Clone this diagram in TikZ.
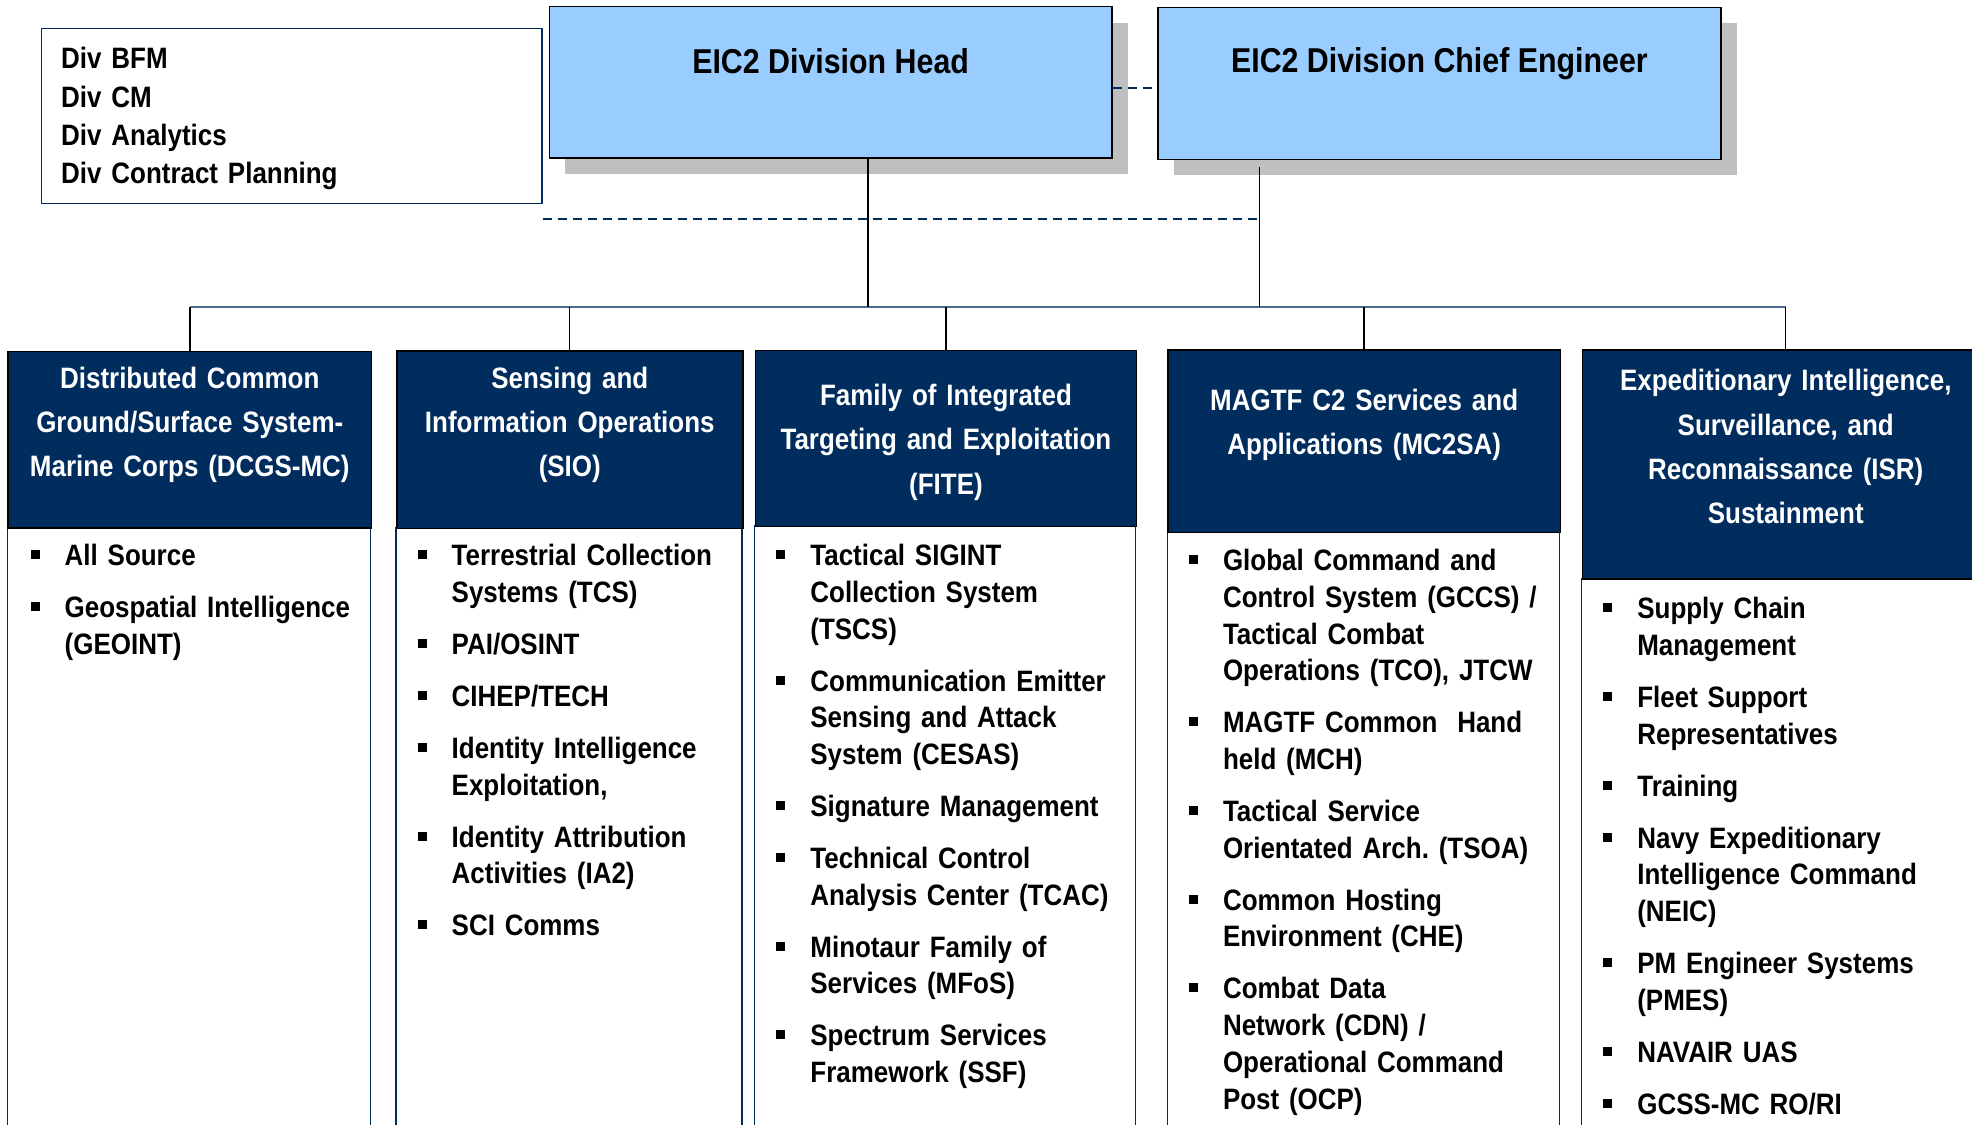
\documentclass[tikz,border=0pt]{standalone}
\usepackage{fontspec}
\setmainfont{Liberation Sans}[FakeStretch=0.88]
\usetikzlibrary{
  positioning,
  shadows
}
\definecolor{navy}{RGB}{0,45,94}
\definecolor{headblue}{RGB}{153,204,255}
\definecolor{shadowgray}{RGB}{191,191,191}
\definecolor{busblue}{RGB}{79,106,143}
\frenchspacing

% Square bullet in front of a list entry.
\newcommand\bul{\leavevmode\llap{\rule[6.5pt]{9pt}{9pt}\hspace{25pt}}}
% Gap between two list entries.
\newcommand\nxt{\\[15.3pt]}

\tikzset{
  % For the two boxes at the top.
  head box/.style={
    draw=black,
    line width=1.5pt,
    fill=headblue,
    anchor=north west,
    inner sep=0pt,
    drop shadow={shadow xshift=16pt,
                 shadow yshift=-16pt,
                 fill=shadowgray,
                 opacity=1}},
%
  % For the staff box at the top left.
  staff box/.style={
    draw=navy,
    line width=1.5pt,
    anchor=north west,
    inner sep=0pt},
%
  % For the dark box on top of each column.
  column head/.style={
    draw=black,
    line width=1.5pt,
    fill=navy,
    anchor=north west,
    inner sep=0pt},
%
  % For the open body below each dark box.
  body line/.style={
    draw=navy,
    line width=1.2pt},
%
  % For plain connectors.
  link/.style={
    line width=1.4pt},
%
  % For the long line that feeds the columns.
  bus/.style={
    draw=busblue,
    line width=2.5pt},
%
  % For dashed connectors.
  dash link/.style={
    draw=navy,
    line width=1.8pt,
    dash pattern=on 9pt off 6pt},
%
  % For texts.
  title/.style={
    font=\fontsize{34.5}{40}\selectfont\bfseries,
    anchor=base,
    inner sep=0pt},
  staff text/.style={
    font=\fontsize{29.5}{38.3}\selectfont\bfseries,
    anchor=base west,
    align=left,
    text width=460pt,
    inner sep=0pt},
  column title/.style={
    font=\fontsize{29.5}{44.3}\selectfont\bfseries,
    text=white,
    anchor=base,
    align=center,
    text width=420pt,
    inner sep=0pt},
  item list/.style={
    font=\fontsize{29.5}{36.7}\selectfont\bfseries,
    anchor=base west,
    align=left,
    text width=420pt,
    inner sep=0pt}
}

\begin{document}
\begin{tikzpicture}[x=1pt,y=-1pt]
  \useasboundingbox (0,0) rectangle (1972,1124);
  \clip (0,0) rectangle (1972,1124);

  \coordinate (bus) at (0,307);
  \coordinate (dash) at (0,219);
  \coordinate (peer) at (0,88.3);

  % Top level.
  \node[staff box, minimum width=500.5pt, minimum height=174.7pt] (staff) at (40.5,28) {};
  \node[staff text] (staffTxt) at (61,69)
    {Div BFM\\Div CM\\Div Analytics\\Div Contract Planning};

  \node[head box, minimum width=562.3pt, minimum height=151pt] (head) at (548.7,6) {};
  \node[head box, minimum width=562.7pt, minimum height=152pt] (chief) at (1157.3,6.7) {};
  \node[title] (headTxt) at (head.north |- 0,73.3) {EIC2 Division Head};
  \node[title] (chiefTxt) at (chief.north |- 0,72.7) {EIC2 Division Chief Engineer};

  \coordinate (hdTap) at ([xshift=37.3pt]head.south);
  \coordinate (ceTap) at ([shift={(-180pt,-7pt)}]chief.south);

  % Columns, each with its dark head and open body.
  \foreach \n/\x/\y/\w/\h in {1/7.3/350.5/363.5/176.5,
                              2/396/350/346/177.5,
                              3/754.7/349.6/381/176.1,
                              4/1167.3/349/392.2/182.7,
                              5/1581.6/349/406.8/229.3}
    {\draw[body line] (\x,\y+\h) rectangle (\x+\w,1140);
     \node[column head, minimum width=\w pt, minimum height=\h pt] (h\n) at (\x,\y) {};}

  \draw[dash link] (head.east |- peer) -- (chief.west |- peer);
  \draw[dash link] (staff.south east |- dash) -- (ceTap |- dash);

  \draw[bus] (h1.north |- bus) -- (h5.north |- bus);
  \draw[link] (hdTap) -- (hdTap |- bus);
  \draw[link] (ceTap) -- (ceTap |- bus);
  \foreach \n in {1,...,5}
    \draw[link] (h\n.north |- bus) -- (h\n.north);

  % Column titles.
  \node[column title] (t1) at (h1.north |- 0,388.3)
    {Distributed Common\\Ground/Surface System-\\Marine Corps (DCGS-MC)};
  \node[column title] (t2) at (h2.north |- 0,388.3)
    {Sensing and\\Information Operations\\(SIO)};
  \node[column title] (t3) at (h3.north |- 0,405.5)
    {Family of Integrated\\Targeting and Exploitation\\(FITE)};
  \node[column title] (t4) at (h4.north |- 0,410.5)
    {MAGTF C2 Services and\\Applications (MC2SA)};
  \node[column title] (t5) at (h5.north |- 0,390.7)
    {Expeditionary Intelligence,\\Surveillance, and\\Reconnaissance (ISR)\\Sustainment};

  % Column entries.
  \node[item list] (l1) at (64.5,565.7)
    {\bul All Source\nxt
     \bul Geospatial Intelligence\\(GEOINT)};
  \node[item list] (l2) at (451.5,565.7)
    {\bul Terrestrial Collection\\Systems (TCS)\nxt
     \bul PAI/OSINT\nxt
     \bul CIHEP/TECH\nxt
     \bul Identity Intelligence\\Exploitation,\nxt
     \bul Identity Attribution\\Activities (IA2)\nxt
     \bul SCI Comms};
  \node[item list] (l3) at (810.2,565.7)
    {\bul Tactical SIGINT\\Collection System\\(TSCS)\nxt
     \bul Communication Emitter\\Sensing and Attack\\System (CESAS)\nxt
     \bul Signature Management\nxt
     \bul Technical Control\\Analysis Center (TCAC)\nxt
     \bul Minotaur Family of\\Services (MFoS)\nxt
     \bul Spectrum Services\\Framework (SSF)};
  \node[item list] (l4) at (1222.8,570.7)
    {\bul Global Command and\\Control System (GCCS) /\\Tactical Combat\\Operations (TCO), JTCW\nxt
     \bul MAGTF Common\ \ Hand\\held (MCH)\nxt
     \bul Tactical Service\\Orientated Arch. (TSOA)\nxt
     \bul Common Hosting\\Environment (CHE)\nxt
     \bul Combat Data\\Network (CDN) /\\Operational Command\\Post (OCP)};
  \node[item list] (l5) at (1637.1,618.7)
    {\bul Supply Chain\\Management\nxt
     \bul Fleet Support\\Representatives\nxt
     \bul Training\nxt
     \bul Navy Expeditionary\\Intelligence Command\\(NEIC)\nxt
     \bul PM Engineer Systems\\(PMES)\nxt
     \bul NAVAIR UAS\nxt
     \bul GCSS-MC RO/RI};
\end{tikzpicture}
\end{document}
